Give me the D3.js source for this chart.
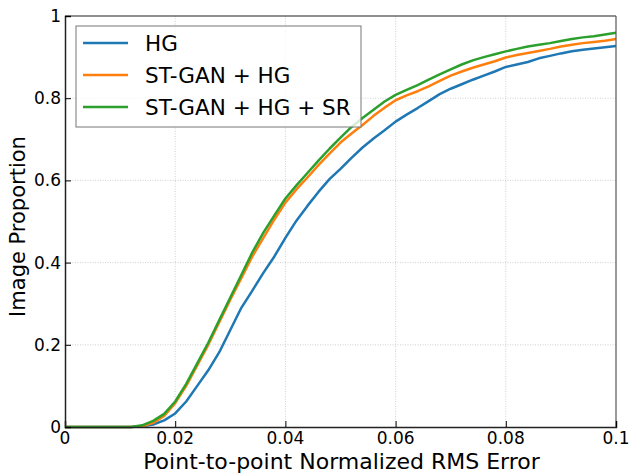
<!DOCTYPE html>
<html>
<head>
<meta charset="utf-8">
<script src="https://cdn.jsdelivr.net/npm/d3@7"></script>
<style>
  body { margin: 0; background: #fff; }
  text { font-family: "DejaVu Sans", sans-serif; fill: #000; }
</style>
</head>
<body>
<div id="chart"></div>
<script>
// error thresholds
var errX = [0, 0.012, 0.014, 0.016, 0.018, 0.02, 0.022, 0.024, 0.026, 0.028, 0.03,
  0.032, 0.034, 0.036, 0.038, 0.04, 0.042, 0.044, 0.046, 0.048, 0.05,
  0.052, 0.054, 0.056, 0.058, 0.06, 0.062, 0.064, 0.066, 0.068, 0.07,
  0.072, 0.074, 0.076, 0.078, 0.08, 0.082, 0.084, 0.086, 0.088, 0.09,
  0.092, 0.094, 0.096, 0.098, 0.1];

var hg = [0, 0, 0.002, 0.006, 0.016, 0.033, 0.062, 0.1, 0.138, 0.182, 0.236,
  0.29, 0.332, 0.375, 0.415, 0.46, 0.502, 0.538, 0.572, 0.603, 0.628,
  0.655, 0.68, 0.702, 0.722, 0.743, 0.76, 0.776, 0.793, 0.81, 0.823,
  0.834, 0.845, 0.855, 0.865, 0.876, 0.882, 0.888, 0.897, 0.903, 0.909,
  0.914, 0.918, 0.921, 0.924, 0.927];

var stganHg = [0, 0, 0.002, 0.01, 0.027, 0.058, 0.1, 0.15, 0.2, 0.255, 0.31,
  0.362, 0.415, 0.46, 0.505, 0.546, 0.578, 0.607, 0.637, 0.665, 0.692,
  0.714, 0.735, 0.757, 0.777, 0.795, 0.807, 0.817, 0.829, 0.842, 0.855,
  0.865, 0.874, 0.882, 0.89, 0.899, 0.905, 0.91, 0.915, 0.92, 0.926,
  0.93, 0.934, 0.937, 0.94, 0.944];

var stganHgSr = [0, 0, 0.004, 0.015, 0.032, 0.062, 0.105, 0.155, 0.205, 0.26, 0.315,
  0.37, 0.425, 0.473, 0.515, 0.556, 0.588, 0.618, 0.648, 0.677, 0.704,
  0.73, 0.752, 0.772, 0.792, 0.808, 0.82, 0.832, 0.845, 0.858, 0.87,
  0.882, 0.892, 0.9, 0.907, 0.914, 0.92, 0.926, 0.93, 0.934, 0.939,
  0.944, 0.948, 0.951, 0.955, 0.959];

var seriesNames = ["HG", "ST-GAN + HG", "ST-GAN + HG + SR"];
var seriesColors = ["#1f77b4", "#ff7f0e", "#2ca02c"];
var xTicks = [0, 0.02, 0.04, 0.06, 0.08, 0.1];
var xTickLabels = ["0", "0.02", "0.04", "0.06", "0.08", "0.1"];
var yTicks = [0, 0.2, 0.4, 0.6, 0.8, 1];
var yTickLabels = ["0", "0.2", "0.4", "0.6", "0.8", "1"];

var W = 630, H = 473;
var plotL = 65, plotR = 616, plotT = 16, plotB = 427;

var svg = d3.select("#chart").append("svg")
  .attr("width", W).attr("height", H);

var x = d3.scaleLinear().domain([0, 0.1]).range([plotL, plotR]);
var y = d3.scaleLinear().domain([0, 1]).range([plotB, plotT]);

// grid
svg.append("g").selectAll("line")
  .data(xTicks.slice(1, -1)).enter().append("line")
  .attr("x1", d => x(d)).attr("x2", d => x(d))
  .attr("y1", plotT).attr("y2", plotB)
  .attr("stroke", "#c4c4c4").attr("stroke-width", 0.8)
  .attr("stroke-dasharray", "1,1.5");
svg.append("g").selectAll("line")
  .data(yTicks.slice(1, -1)).enter().append("line")
  .attr("x1", plotL).attr("x2", plotR)
  .attr("y1", d => y(d)).attr("y2", d => y(d))
  .attr("stroke", "#c4c4c4").attr("stroke-width", 0.8)
  .attr("stroke-dasharray", "1,1.5");

// curves
var allSeries = [hg, stganHg, stganHgSr];
var line = d3.line()
  .x(function(d, i) { return x(errX[i]); })
  .y(function(d) { return y(d); });

svg.append("g").selectAll("path")
  .data(allSeries).enter().append("path")
  .attr("d", line)
  .attr("fill", "none")
  .attr("stroke", (d, i) => seriesColors[i])
  .attr("stroke-width", 2.5)
  .attr("stroke-linejoin", "round");

// frame
svg.append("line").attr("x1", plotL).attr("x2", plotR).attr("y1", plotT).attr("y2", plotT)
  .attr("stroke", "#222").attr("stroke-width", 1.2);
svg.append("line").attr("x1", plotR).attr("x2", plotR).attr("y1", plotT).attr("y2", plotB)
  .attr("stroke", "#555").attr("stroke-width", 1.2);

// axes with inward ticks
var xAxis = d3.axisTop(x).tickValues(xTicks).tickSize(6).tickFormat("");
svg.append("g").attr("transform", "translate(0," + plotB + ")").call(xAxis)
  .call(g => g.select(".domain").attr("stroke", "#222").attr("stroke-width", 1.5));
var yAxis = d3.axisRight(y).tickValues(yTicks).tickSize(6).tickFormat("");
svg.append("g").attr("transform", "translate(" + plotL + ",0)").call(yAxis)
  .call(g => g.select(".domain").attr("stroke", "#222").attr("stroke-width", 1.5));

svg.append("g").selectAll("text")
  .data(xTicks).enter().append("text")
  .attr("x", d => x(d)).attr("y", plotB + 17)
  .attr("text-anchor", "middle")
  .style("font-size", "17px")
  .text((d, i) => xTickLabels[i]);

svg.append("g").selectAll("text")
  .data(yTicks).enter().append("text")
  .attr("x", plotL - 4).attr("y", d => y(d) + 6)
  .attr("text-anchor", "end")
  .style("font-size", "17px")
  .text((d, i) => yTickLabels[i]);

// axis titles
svg.append("text")
  .attr("x", (plotL + plotR) / 2 + 1).attr("y", H - 4)
  .attr("text-anchor", "middle")
  .style("font-size", "22px")
  .text("Point-to-point Normalized RMS Error");
svg.append("text")
  .attr("transform", "translate(25," + ((plotT + plotB) / 2 + 5) + ") rotate(-90)")
  .attr("text-anchor", "middle")
  .style("font-size", "21px")
  .text("Image Proportion");

// legend
var lg = svg.append("g");
lg.append("rect")
  .attr("x", 76).attr("y", 26).attr("width", 285).attr("height", 101)
  .attr("fill", "#fff").attr("fill-opacity", 0.8)
  .attr("stroke", "#777").attr("stroke-width", 1);
var items = lg.selectAll("g.item").data(seriesNames).enter().append("g")
  .attr("transform", (d, i) => "translate(0," + (43 + i * 32) + ")");
items.append("line")
  .attr("x1", 83).attr("x2", 128)
  .attr("stroke", (d, i) => seriesColors[i]).attr("stroke-width", 2.5);
items.append("text")
  .attr("x", 145).attr("y", 8)
  .style("font-size", "21.5px")
  .text(d => d);
</script>
</body>
</html>
